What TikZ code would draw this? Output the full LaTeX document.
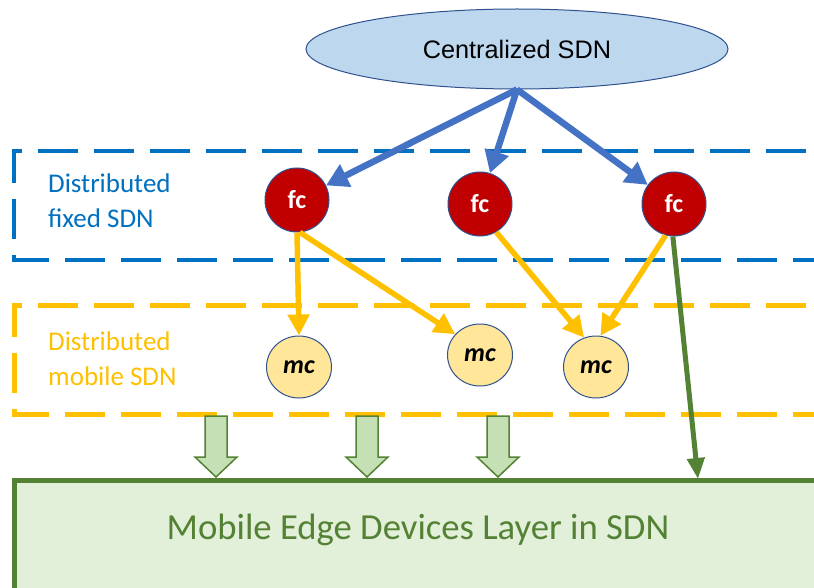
\documentclass[tikz,border=0pt]{standalone}
\usepackage{fontspec}
\setmainfont{Carlito}
\newfontfamily\arialfont{Liberation Sans}
\usetikzlibrary{arrows.meta,shapes.geometric}

\definecolor{ctrlfill}{HTML}{BDD7EE}
\definecolor{ctrlline}{HTML}{2F528F}
\definecolor{fixblue}{HTML}{0070C0}
\definecolor{arrowblue}{HTML}{4472C4}
\definecolor{fcred}{HTML}{C00000}
\definecolor{mcfill}{HTML}{FFE699}
\definecolor{mobyellow}{HTML}{FFC000}
\definecolor{edgegreen}{HTML}{548235}
\definecolor{edgefill}{HTML}{E2F0D9}
\definecolor{blockfill}{HTML}{C5E0B4}

\begin{document}
\begin{tikzpicture}[x=1pt, y=-1pt,
    fcnode/.style={circle, fill=fcred, draw=ctrlline, line width=1pt, minimum width=64pt, inner sep=0pt, text=white, font=\fontsize{26}{28}\selectfont\bfseries},
    mcnode/.style={ellipse, fill=mcfill, draw=ctrlline, line width=1pt, minimum width=65pt, minimum height=62pt, inner sep=0pt, font=\fontsize{26}{28}\selectfont\bfseries\itshape},
    layertext/.style={anchor=west, align=left, inner sep=0pt, font=\fontsize{27}{35}\selectfont},
    bluearrow/.style={arrowblue, line width=6.5pt, -{Triangle[length=22pt, width=24pt]}},
    yellowarrow/.style={mobyellow, line width=5.5pt, -{Triangle[length=21pt, width=21pt]}},
    greenarrow/.style={edgegreen, line width=5pt, -{Triangle[length=21pt, width=17pt]}}]
    \clip (0,0) rectangle (814,588);
    \fill[white] (0,0) rectangle (814,588);

    % layers
    \draw[fixblue, line width=4.5pt, dash pattern=on 40pt off 16pt, dash phase=22pt] (840,151) -- (14,151) -- (14,260) -- (840,260);
    \draw[mobyellow, line width=5pt, dash pattern=on 40pt off 16pt, dash phase=22pt] (840,305) -- (14,305) -- (14,414) -- (840,414);
    \draw[edgegreen, fill=edgefill, line width=5pt] (840,480) -- (14,480) -- (14,600) -- (840,600);

    \node[layertext, text=fixblue] (fixlabel) at (48,201) {Distributed\\fixed SDN};
    \node[layertext, text=mobyellow] (moblabel) at (48,359) {Distributed\\mobile SDN};
    \node[text=edgegreen, font=\fontsize{36.7}{40}\selectfont] (edgelabel) at (418,530) {Mobile Edge Devices Layer in SDN};

    % controllers
    \node[ellipse, fill=ctrlfill, draw=ctrlline, line width=1pt, minimum width=422pt, minimum height=80pt, font=\arialfont\fontsize{25.3}{27}\selectfont] (csdn) at (517,49) {Centralized SDN};

    \node[fcnode] (fc1) at (297,200) {fc};
    \node[fcnode] (fc2) at (480,204) {fc};
    \node[fcnode] (fc3) at (674,204) {fc};

    \node[mcnode] (mc1) at (299,367) {mc};
    \node[mcnode] (mc2) at (480,355) {mc};
    \node[mcnode] (mc3) at (596,367) {mc};

    \coordinate (gtip) at (698,479);

    % links
    \draw[bluearrow] (csdn.south) -- (fc1);
    \draw[bluearrow] (csdn.south) -- (fc2);
    \draw[bluearrow] (csdn.south) -- (fc3);

    \draw[yellowarrow] (fc1.south) -- (mc1.north);
    \draw[yellowarrow] (fc1.-85) -- (mc2.140);
    \draw[yellowarrow] (fc2.-60) -- (mc3.112);
    \draw[yellowarrow] (fc3.-105) -- (mc3.82);

    \draw[greenarrow] (fc3.-92) -- (gtip);

    % block arrows
    \foreach \x in {216,367,498}
    \draw[edgegreen, fill=blockfill, line width=1.5pt, line join=miter] (\x-11,416) -- (\x+11,416) -- (\x+11,457) -- (\x+21,457) -- (\x,477) -- (\x-21,457) -- (\x-11,457) -- cycle;
\end{tikzpicture}
\end{document}
